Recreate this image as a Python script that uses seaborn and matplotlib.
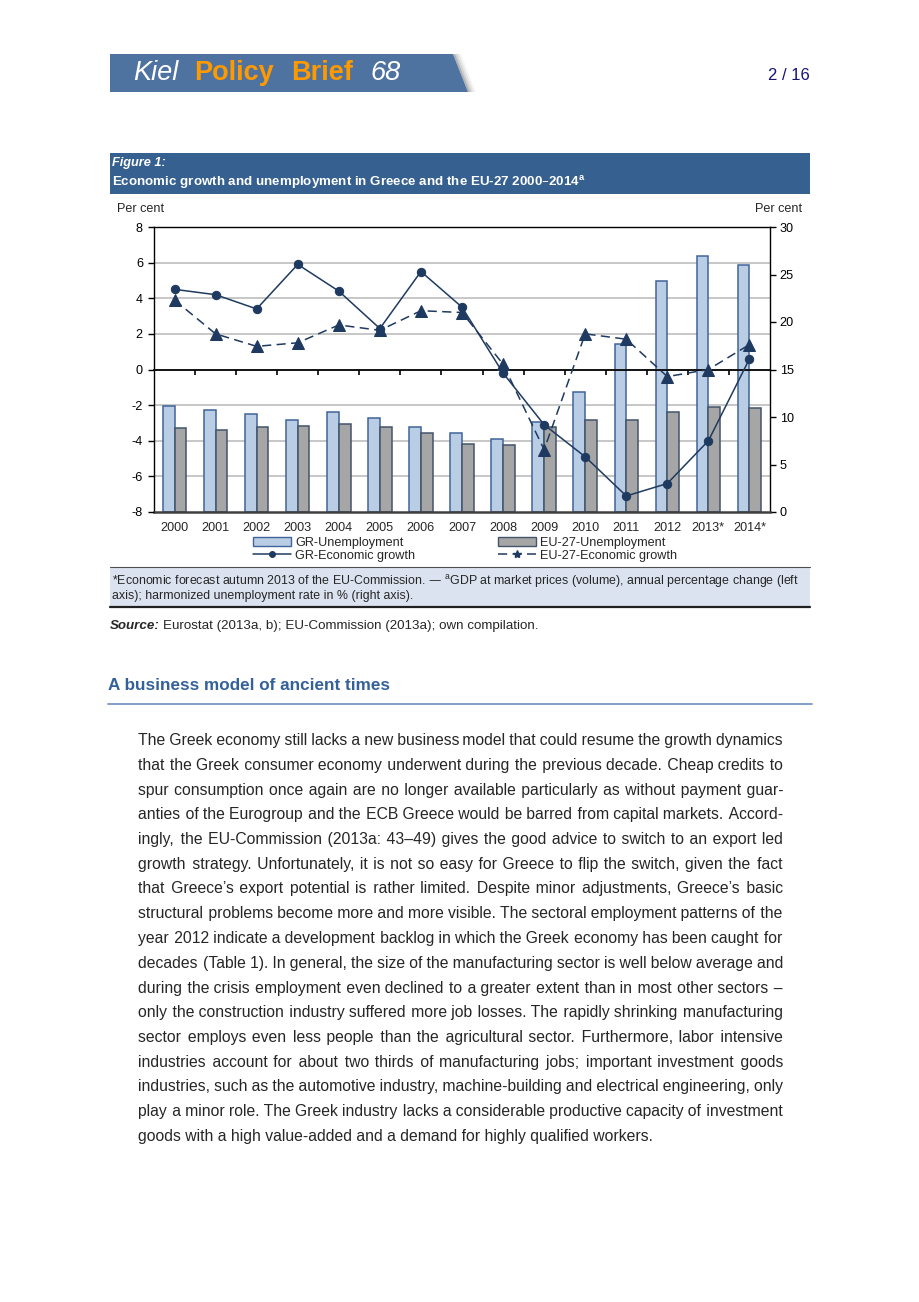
import numpy as np
import pandas as pd
import matplotlib
matplotlib.use("Agg")
import matplotlib.pyplot as plt
import seaborn as sns
from matplotlib.patches import Rectangle, Polygon, Patch
from matplotlib.lines import Line2D

# data
years = ["2000", "2001", "2002", "2003", "2004", "2005", "2006", "2007",
         "2008", "2009", "2010", "2011", "2012", "2013*", "2014*"]
gr_unemployment = [11.2, 10.7, 10.3, 9.7, 10.5, 9.9, 8.9, 8.3, 7.7, 9.5, 12.6, 17.7, 24.3, 27.0, 26.0]
eu_unemployment = [8.8, 8.6, 8.9, 9.1, 9.3, 9.0, 8.3, 7.2, 7.1, 9.0, 9.7, 9.7, 10.5, 11.1, 11.0]
gr_growth = [4.5, 4.2, 3.4, 5.9, 4.4, 2.3, 5.5, 3.5, -0.2, -3.1, -4.9, -7.1, -6.4, -4.0, 0.6]
eu_growth = [3.9, 2.0, 1.3, 1.5, 2.5, 2.2, 3.3, 3.2, 0.3, -4.5, 2.0, 1.7, -0.4, 0.0, 1.4]
left_ticks = [-8, -6, -4, -2, 0, 2, 4, 6, 8]
right_ticks = [0, 5, 10, 15, 20, 25, 30]

body_lines = [
    "The Greek economy still lacks a new business model that could resume the growth dynamics",
    "that the Greek consumer economy underwent during the previous decade. Cheap credits to",
    "spur consumption once again are no longer available particularly as without payment guar-",
    "anties of the Eurogroup and the ECB Greece would be barred from capital markets. Accord-",
    "ingly, the EU-Commission (2013a: 43\u201349) gives the good advice to switch to an export led",
    "growth strategy. Unfortunately, it is not so easy for Greece to flip the switch, given the fact",
    "that Greece\u2019s export potential is rather limited. Despite minor adjustments, Greece\u2019s basic",
    "structural problems become more and more visible. The sectoral employment patterns of the",
    "year 2012 indicate a development backlog in which the Greek economy has been caught for",
    "decades (Table 1). In general, the size of the manufacturing sector is well below average and",
    "during the crisis employment even declined to a greater extent than in most other sectors \u2013",
    "only the construction industry suffered more job losses. The rapidly shrinking manufacturing",
    "sector employs even less people than the agricultural sector. Furthermore, labor intensive",
    "industries account for about two thirds of manufacturing jobs; important investment goods",
    "industries, such as the automotive industry, machine-building and electrical engineering, only",
    "play a minor role. The Greek industry lacks a considerable productive capacity of investment",
    "goods with a high value-added and a demand for highly qualified workers.",
]

sns.set_style("ticks")
plt.rcParams["font.family"] = ["Liberation Sans", "DejaVu Sans"]
plt.rcParams["axes.unicode_minus"] = False

W, H = 920, 1302
fig = plt.figure(figsize=(W / 100, H / 100), dpi=100)


def fx(x):
    return x / W


def fy(y):
    return 1 - y / H


gr_fill, gr_edge = "#B9CDE5", "#40649A"
eu_fill, eu_edge = "#A6A6A6", "#44546A"
line_c = "#1F3A60"
fs_chart = 9.1

# ---- chart ----
ax_bar = fig.add_axes([fx(154), fy(512), 616 / W, 285 / H])
df_u = pd.DataFrame({
    "year": years * 2,
    "rate": gr_unemployment + eu_unemployment,
    "series": ["GR-Unemployment"] * len(years) + ["EU-27-Unemployment"] * len(years),
})
sns.barplot(data=df_u, x="year", y="rate", hue="series",
            hue_order=["GR-Unemployment", "EU-27-Unemployment"],
            palette=[gr_fill, eu_fill], saturation=1, width=0.57,
            legend=False, ax=ax_bar, zorder=2)
for cont, ec in zip(ax_bar.containers, [gr_edge, eu_edge]):
    for bar in cont:
        bar.set_edgecolor(ec)
        bar.set_linewidth(1.1)

ax_bar.set_ylim(0, 30)
ax_bar.set_yticks(right_ticks)
ax_bar.set_yticks(np.linspace(0, 30, 9), minor=True)
ax_bar.grid(False)
ax_bar.grid(True, which="minor", axis="y", color="#BDBDBD", lw=1.2)
ax_bar.set_axisbelow(True)
ax_bar.set_xlabel("")
ax_bar.set_ylabel("")
ax_bar.tick_params(axis="y", which="major", direction="out", length=4, width=1,
                   labelsize=fs_chart, pad=3, colors="black")
ax_bar.tick_params(axis="y", which="minor", length=0)
ax_bar.tick_params(axis="x", length=0, labelsize=fs_chart, pad=7.5)
for s in ["left", "right", "top"]:
    ax_bar.spines[s].set_color("black")
    ax_bar.spines[s].set_linewidth(1.0)
ax_bar.spines["bottom"].set_color("#404040")
ax_bar.spines["bottom"].set_linewidth(1.8)

ax_line = ax_bar.twinx()
x_pos = np.arange(len(years))
sns.lineplot(x=x_pos, y=gr_growth, ax=ax_line, color=line_c, lw=1.1,
             marker="o", markersize=6, markeredgecolor=line_c)
sns.lineplot(x=x_pos, y=eu_growth, ax=ax_line, color=line_c, lw=1.1,
             marker="^", markersize=9, markeredgecolor=line_c, dashes=(6, 3.5))
ax_line.set_ylim(-8, 8)
ax_line.set_yticks(left_ticks)
ax_bar.yaxis.tick_right()
ax_line.yaxis.tick_left()
ax_line.tick_params(axis="y", direction="out", length=4, width=1,
                    labelsize=fs_chart, pad=4, colors="black")
for s in ax_line.spines.values():
    s.set_visible(False)
ax_line.grid(False)
ax_bar.set_xlim(-0.5, len(years) - 0.5)

# category axis crossing at zero
sec = ax_line.secondary_xaxis(0.5)
sec.set_alignment("bottom")
sec.set_xticks(np.arange(0.5, len(years) - 1, 1))
sec.tick_params(direction="out", length=3.5, width=1.2, labelbottom=False, color="black")
sec.spines["bottom"].set_color("black")
sec.spines["bottom"].set_linewidth(1.3)

fig.text(fx(117), fy(209), "Per cent", fontsize=fs_chart, va="center", ha="left")
fig.text(fx(802), fy(209), "Per cent", fontsize=fs_chart, va="center", ha="right")

handles = [
    Patch(facecolor=gr_fill, edgecolor=gr_edge, lw=1.0),
    Line2D([], [], color=line_c, lw=1.1, marker="o", markersize=4),
    Patch(facecolor=eu_fill, edgecolor=eu_edge, lw=1.0),
    Line2D([], [], color=line_c, lw=1.1, marker="*", markersize=6, dashes=(6, 3.5)),
]
labels = ["GR-Unemployment", "GR-Economic growth", "EU-27-Unemployment", "EU-27-Economic growth"]
fig.legend(handles, labels, ncol=2, loc="upper left",
           bbox_to_anchor=(fx(253), fy(537)), frameon=False, borderpad=0,
           borderaxespad=0, handlelength=3.0, handletextpad=0.35,
           columnspacing=6.5, labelspacing=0.05, fontsize=fs_chart)

# ---- page furniture ----
band = Polygon([(fx(110), fy(54)), (fx(453), fy(54)), (fx(468), fy(92)), (fx(110), fy(92))],
               closed=True, transform=fig.transFigure, facecolor="#4E73A0",
               edgecolor="none", zorder=1)
fig.patches.append(band)
for k, a in enumerate([0.30, 0.18, 0.10, 0.04]):
    d = 2 * (k + 1)
    sh = Polygon([(fx(453 + d - 2), fy(54)), (fx(453 + d), fy(54)),
                  (fx(468 + d), fy(92)), (fx(468 + d - 2), fy(92))],
                 closed=True, transform=fig.transFigure, facecolor="black",
                 alpha=a, edgecolor="none", zorder=0)
    fig.patches.append(sh)
fig.text(fx(133), fy(73), "Kiel", fontsize=19.5, style="italic", color="white", va="center")
fig.text(fx(194), fy(73), "Policy", fontsize=19.5, weight="bold", color="#FF9900", va="center")
fig.text(fx(291), fy(73), "Brief", fontsize=19.5, weight="bold", color="#FF9900", va="center")
fig.text(fx(370), fy(73), "68", fontsize=19.5, style="italic", color="white", va="center")
fig.text(fx(810), fy(75), "2 / 16", fontsize=12, color="#14147A", va="center", ha="right")

fig.patches.append(Rectangle((fx(110), fy(194)), 700 / W, 41 / H, transform=fig.transFigure,
                             facecolor="#35608F", edgecolor="none"))
fig.text(fx(112), fy(163), "Figure 1:", fontsize=9.2, weight="bold", style="italic",
         color="white", va="center")
fig.text(fx(112), fy(182),
         "Economic growth and unemployment in Greece and the EU-27 2000\u20132014$^{\\mathregular{a}}$",
         fontsize=9.6, weight="bold", color="white", va="center")

fig.patches.append(Rectangle((fx(110), fy(607)), 700 / W, 40 / H, transform=fig.transFigure,
                             facecolor="#DCE3F0", edgecolor="none"))
fig.add_artist(Line2D([fx(110), fx(810)], [fy(567), fy(567)], transform=fig.transFigure,
                      color="#505050", lw=0.8))
fig.add_artist(Line2D([fx(110), fx(810)], [fy(607), fy(607)], transform=fig.transFigure,
                      color="#202020", lw=1.6))
fig.text(fx(112), fy(581),
         "*Economic forecast autumn 2013 of the EU-Commission. \u2014 $^{\\mathregular{a}}$GDP at market "
         "prices (volume), annual percentage change (left",
         fontsize=8.95, va="center")
fig.text(fx(112), fy(596), "axis); harmonized unemployment rate in % (right axis).",
         fontsize=8.95, va="center")

renderer = fig.canvas.get_renderer()
src = fig.text(fx(110), fy(626), "Source:", fontsize=9.6, weight="bold", style="italic", va="center")
sw = src.get_window_extent(renderer).width
fig.text(fx(110 + sw + 3), fy(626), "Eurostat (2013a, b); EU-Commission (2013a); own compilation.",
         fontsize=9.6, va="center")

fig.text(fx(108), fy(686), "A business model of ancient times", fontsize=12.3,
         weight="bold", color="#34619A", va="center")
fig.add_artist(Line2D([fx(108), fx(812)], [fy(704), fy(704)], transform=fig.transFigure,
                      color="#6A8FC0", lw=1.2))

# justified body text: one text per line, word gaps built from hair spaces
x0, x1 = 138, 783
fs_body = 11.3
HAIR = "\u200a"


def line_width(s):
    t = fig.text(0, 0, s, fontsize=fs_body)
    w = t.get_window_extent(renderer).width
    t.remove()
    return w


for i, line in enumerate(body_lines):
    yb = fy(745 + i * 24.75)
    words = line.split(" ")
    if i < len(body_lines) - 1:
        n = len(words) - 1
        wa = line_width(HAIR.join(words))
        wb = line_width((HAIR * 5).join(words))
        per_hair = (wb - wa) / (4 * n)
        total = n + max(0, int(round((x1 - x0 - wa) / per_hair)))
        base, rem = divmod(total, n)
        spread = set(np.linspace(0, n - 1, rem).round().astype(int)) if rem else set()
        parts = [words[0]]
        for k in range(n):
            extra = base + (1 if k in spread else 0)
            parts.append(HAIR * extra + words[k + 1])
        line = "".join(parts)
    fig.text(fx(x0), yb, line, fontsize=fs_body, va="baseline")

fig.savefig("out.png", dpi=100)
